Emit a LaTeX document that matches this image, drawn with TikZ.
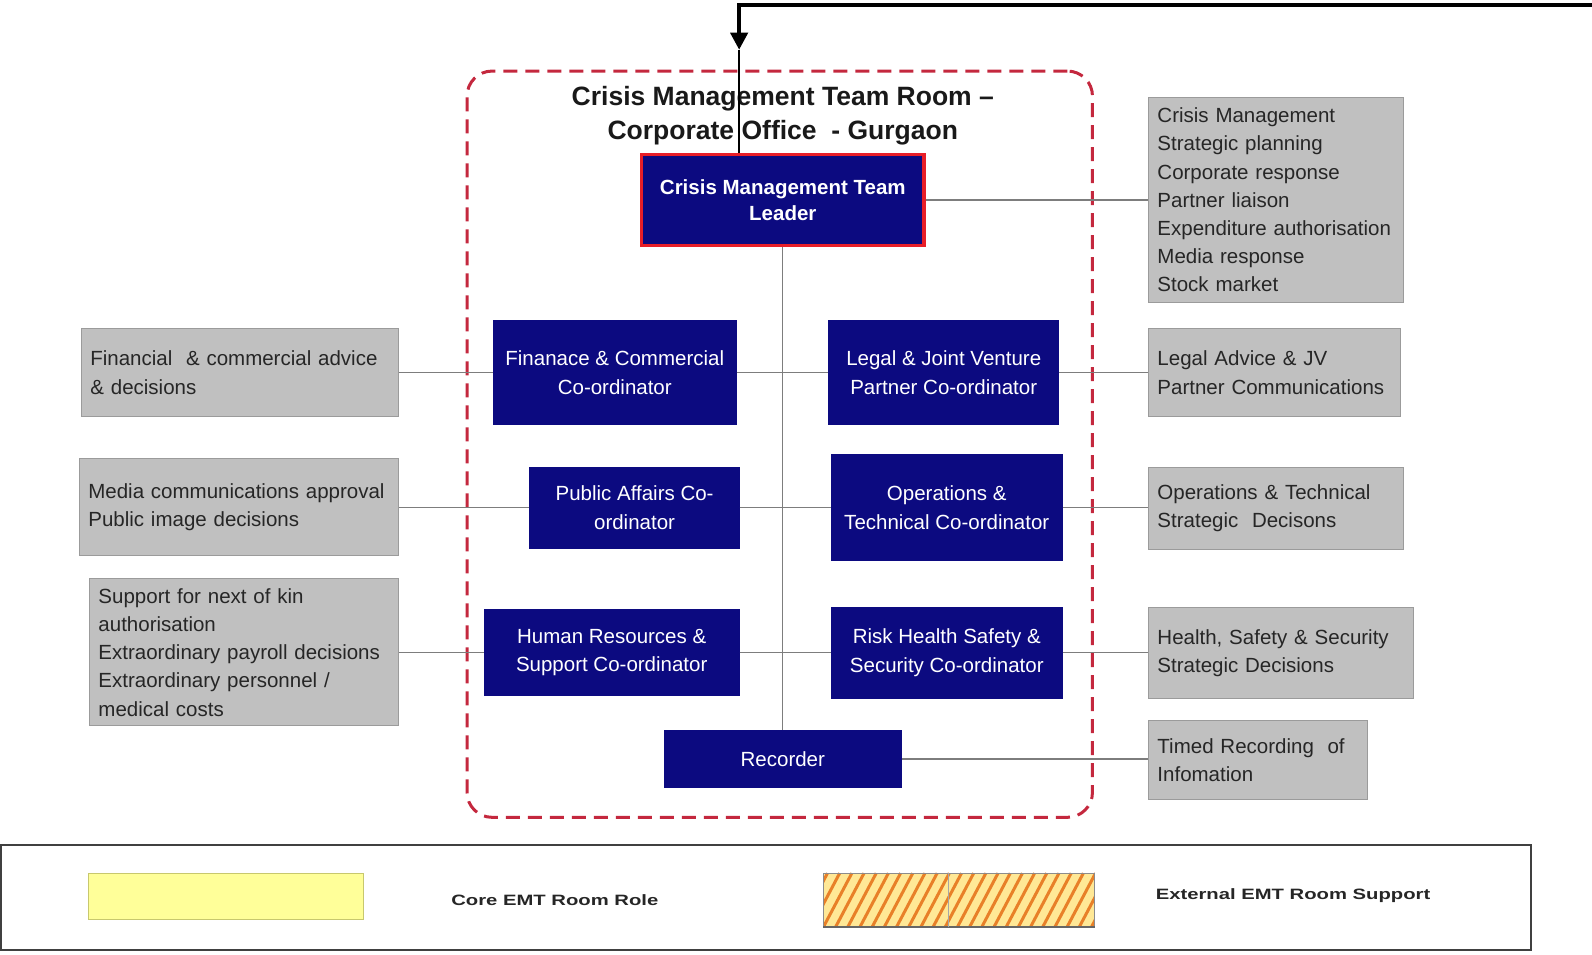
\documentclass[tikz,border=0pt]{standalone}
\usepackage{fontspec}
\setmainfont{Liberation Sans}
\usetikzlibrary{arrows.meta}
\definecolor{navy}{RGB}{12,10,128}
\definecolor{boxgray}{RGB}{192,192,192}
\definecolor{boxedge}{RGB}{155,155,155}
\definecolor{dashred}{RGB}{196,40,62}
\definecolor{leadred}{RGB}{232,30,40}
\definecolor{txtgray}{RGB}{38,38,38}
\definecolor{linegray}{RGB}{125,125,125}
\definecolor{coreyel}{RGB}{255,255,153}
\definecolor{coreedge}{RGB}{200,200,110}
\definecolor{hatchbg}{RGB}{255,232,150}
\definecolor{hatchor}{RGB}{232,128,40}
\newcommand\bx[7]{\node[#6, minimum width={(#4-#2)*1.0153pt}, minimum height={(#5-#3)*1.0153pt}] (#1) at ({(#2+#4)/2},{(#3+#5)/2}) {#7};}
\newcommand\gbx[6]{\pgfmathsetlengthmacro\gtw{(#4-#2-18)*1.0153pt}%
  \node[graybox, minimum width={(#4-#2)*1.0153pt}, minimum height={(#5-#3)*1.0153pt}, text width=\gtw] (#1) at ({(#2+#4)/2},{(#3+#5)/2}) {#6};}
\tikzset{
  graybox/.style={rectangle, inner sep=0pt, fill=boxgray, draw=boxedge, line width=1pt, align=left, text=txtgray, font=\fontsize{20.5}{28.2}\selectfont},
  bluebox/.style={rectangle, inner sep=0pt, fill=navy, draw=navy, line width=1pt, align=center, text=white, font=\fontsize{20.5}{28.4}\selectfont},
  leadbox/.style={rectangle, inner sep=0pt, fill=navy, draw=leadred, line width=3.5pt, align=center, text=white, font=\fontsize{20.5}{26.5}\selectfont\bfseries},
  conn/.style={draw=linegray, line width=1.3pt},
  roombox/.style={rectangle, inner sep=0pt, draw=dashred, line width=3pt, dash pattern=on 14pt off 8pt, rounded corners=25pt},
  legtext/.style={text=txtgray, inner sep=0pt},
  stripe/.style={draw=hatchor, line width=3pt},
}
\begin{document}
\begin{tikzpicture}[x=1.0153pt, y=-1.0153pt]
\useasboundingbox (0,0) rectangle (1568,940);
% room
\bx{room}{460}{70}{1076}{805}{roombox}{}
\node[align=center, inner sep=0pt, text=black!90, font=\fontsize{26.5}{33.5}\selectfont\bfseries] (title) at (771,114) {Crisis Management Team Room --\\Corporate Office\ \ - Gurgaon};
% blue boxes
\bx{lead}{632}{152}{910}{242}{leadbox}{Crisis Management Team\\Leader}
\bx{fin}{486}{316}{725}{418}{bluebox}{Finanace \& Commercial\\Co-ordinator}
\bx{leg}{816}{316}{1043}{418}{bluebox}{Legal \& Joint Venture\\Partner Co-ordinator}
\bx{pa}{522}{460}{728}{540}{bluebox}{Public Affairs Co-\\ordinator}
\bx{ops}{819}{448}{1046}{552}{bluebox}{Operations \&\\Technical Co-ordinator}
\bx{hr}{477}{600}{728}{685}{bluebox}{Human Resources \&\\Support Co-ordinator}
\bx{risk}{819}{598}{1046}{688}{bluebox}{Risk Health Safety \&\\Security Co-ordinator}
\bx{rec}{654}{719}{888}{776}{bluebox}{Recorder}
% gray boxes
\gbx{gcm}{1131}{96}{1382}{298}{Crisis Management\\Strategic planning\\Corporate response\\Partner liaison\\Expenditure authorisation\\Media response\\Stock market}
\gbx{gfin}{80}{324}{392}{410}{Financial\ \ \& commercial advice\\\& decisions}
\gbx{glj}{1131}{324}{1379}{410}{Legal Advice \& JV\\Partner Communications}
\gbx{gmed}{78}{452}{392}{547}{Media communications approval\\Public image decisions}
\gbx{gops}{1131}{460}{1382}{541}{Operations \& Technical\\Strategic\ \ Decisons}
\gbx{ghr}{88}{570}{392}{715}{Support for next of kin\\authorisation\\Extraordinary payroll decisions\\Extraordinary personnel /\\medical costs}
\gbx{ghs}{1131}{598}{1392}{688}{Health, Safety \& Security\\Strategic Decisions}
\gbx{gtr}{1131}{710}{1347}{787}{Timed Recording\ \ of\\Infomation}
% connectors
\draw[conn] (lead.south) -- (rec.north);
\draw[conn] (lead.east) -- (lead.east -| gcm.west);
\draw[conn] (gfin.east) -- (gfin.east -| fin.west);
\draw[conn] (fin.east) -- (fin.east -| leg.west);
\draw[conn] (leg.east) -- (leg.east -| glj.west);
\draw[conn] (pa.west) -- (pa.west -| gmed.east);
\draw[conn] (pa.east) -- (pa.east -| ops.west);
\draw[conn] (ops.east) -- (ops.east -| gops.west);
\draw[conn] (hr.west) -- (hr.west -| ghr.east);
\draw[conn] (hr.east) -- (hr.east -| risk.west);
\draw[conn] (risk.east) -- (risk.east -| ghs.west);
\draw[conn] (rec.east) -- (rec.east -| gtr.west);
% incoming arrow
\coordinate (feed) at (1575,5);
\coordinate (tip) at (728,49);
\draw[line width=4pt, line join=miter, -{Triangle[width=17pt,length=17pt]}] (feed) -| (tip);
\draw[line width=1.8pt] (tip) -- (tip |- lead.north);
% legend
\bx{legend}{1}{832}{1508}{936}{rectangle, inner sep=0pt, draw=black!75, line width=2pt}{}
\bx{core}{87}{860}{358}{906}{rectangle, inner sep=0pt, fill=coreyel, draw=coreedge, line width=1.2pt}{}
\node[legtext] (coretxt) at (546.5,887) {\scalebox{1.35}[1]{\fontsize{15}{18}\selectfont\bfseries Core EMT Room Role}};
\bx{exts}{811}{860}{1078}{913}{rectangle, inner sep=0pt, fill=hatchbg}{}
\begin{scope}
\clip (exts.south west) rectangle (exts.north east);
\foreach \i in {-3,...,24} \draw[stripe] ({811+\i*12},913) -- ++(28,-53);
\end{scope}
\coordinate (split) at (934,886);
\draw[draw=black!45, line width=0.8pt] (exts.south west) rectangle (exts.north east);
\draw[draw=black!60, line width=1.5pt] (exts.south west) -- (exts.south east);
\draw[draw=black!35, line width=0.8pt] (split |- exts.north) -- (split |- exts.south);
\node[legtext] (exttxt) at (1273.5,882) {\scalebox{1.35}[1]{\fontsize{15}{18}\selectfont\bfseries External EMT Room Support}};
\end{tikzpicture}
\end{document}
